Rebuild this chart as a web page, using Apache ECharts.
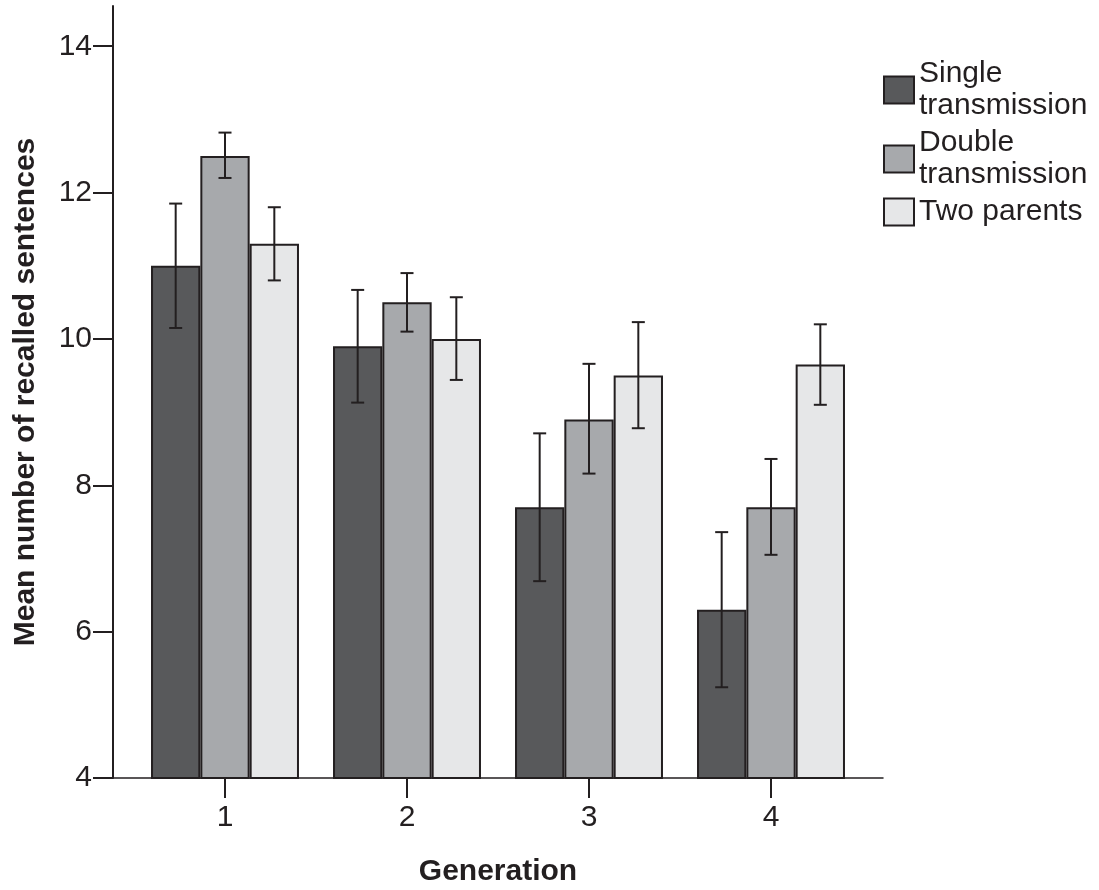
<!DOCTYPE html>
<html>
<head>
<meta charset="utf-8">
<script src="https://cdn.jsdelivr.net/npm/echarts@6/dist/echarts.min.js"></script>
<style>html,body{margin:0;padding:0;background:#fff}#c{width:1099px;height:890px}</style>
</head>
<body>
<div id="c"></div>
<script>
const categories = ['1', '2', '3', '4'];
const seriesNames = ['Single\ntransmission', 'Double\ntransmission', 'Two parents'];
const singleMean = [11.0, 9.9, 7.7, 6.3];
const singleLow = [10.15, 9.13, 6.69, 5.24];
const singleHigh = [11.85, 10.67, 8.71, 7.36];
const doubleMean = [12.5, 10.5, 8.9, 7.7];
const doubleLow = [12.2, 10.1, 8.16, 7.05];
const doubleHigh = [12.82, 10.9, 9.66, 8.36];
const parentsMean = [11.3, 10.0, 9.5, 9.65];
const parentsLow = [10.8, 9.44, 8.78, 9.1];
const parentsHigh = [11.8, 10.57, 10.23, 10.2];
const yTicks = [4, 6, 8, 10, 12, 14];

const colors = ['#58595b', '#a7a9ac', '#e6e7e8'];
const edge = '#231f20';
const font = '"Liberation Sans", Arial, sans-serif';
const catGap = 0.187;
const means = [singleMean, doubleMean, parentsMean];
const lows = [singleLow, doubleLow, parentsLow];
const highs = [singleHigh, doubleHigh, parentsHigh];

const series = [];
means.forEach((m, k) => {
  series.push({
    name: seriesNames[k], type: 'bar', xAxisIndex: 1, yAxisIndex: 1,
    data: m, barGap: '0%', barCategoryGap: (catGap * 100) + '%',
    itemStyle: { color: colors[k], borderColor: edge, borderWidth: 2 },
    emphasis: { disabled: true }, z: 2
  });
});
means.forEach((m, k) => {
  series.push({
    type: 'custom', xAxisIndex: 1, yAxisIndex: 1, z: 5, silent: true,
    data: categories.map((c, i) => [i, lows[k][i], highs[k][i]]),
    renderItem: function (params, api) {
      const band = api.size([1, 0])[0];
      const bw = band * (1 - catGap) / 3;
      const lo = api.coord([api.value(0), api.value(1)]);
      const hi = api.coord([api.value(0), api.value(2)]);
      const x = lo[0] + (k - 1) * bw;
      const cap = 6.5;
      const st = { stroke: edge, lineWidth: 2 };
      return { type: 'group', children: [
        { type: 'line', shape: { x1: x, y1: lo[1], x2: x, y2: hi[1] }, style: st },
        { type: 'line', shape: { x1: x - cap, y1: lo[1], x2: x + cap, y2: lo[1] }, style: st },
        { type: 'line', shape: { x1: x - cap, y1: hi[1], x2: x + cap, y2: hi[1] }, style: st }
      ]};
    }
  });
});

const chart = echarts.init(document.getElementById('c'), null, { renderer: 'canvas' });
chart.setOption({
  animation: false,
  backgroundColor: '#fff',
  textStyle: { fontFamily: font, color: edge },
  grid: [
    { left: 113, top: 6, width: 770, height: 772, containLabel: false, outerBoundsMode: 'none' },
    { left: 134, top: 6, width: 728, height: 772, containLabel: false, outerBoundsMode: 'none' }
  ],
  legend: {
    data: seriesNames.map(n => ({ name: n, icon: 'rect' })),
    orient: 'vertical', left: 883, top: 58, padding: 0,
    itemWidth: 30, itemHeight: 27, itemGap: 5, selectedMode: false,
    textStyle: { fontFamily: font, fontSize: 30, lineHeight: 32, color: edge, padding: [0, 0, 0, 0] }
  },
  xAxis: [
    { gridIndex: 0, type: 'value', min: 0, max: 1,
      axisLine: { show: true, onZero: false, lineStyle: { color: edge, width: 1.5 } },
      axisTick: { show: false }, axisLabel: { show: false }, splitLine: { show: false },
      name: 'Generation', nameLocation: 'middle', nameGap: 79,
      nameTextStyle: { fontFamily: font, fontSize: 30, fontWeight: 'bold', color: edge } },
    { gridIndex: 1, type: 'category', data: categories,
      axisLine: { show: false },
      axisTick: { show: true, inside: false, alignWithLabel: true, length: 20, lineStyle: { color: edge, width: 2 } },
      axisLabel: { fontFamily: font, fontSize: 30, color: edge, margin: 25 },
      splitLine: { show: false } }
  ],
  yAxis: [
    { gridIndex: 0, type: 'value', min: 4, max: 14.55,
      axisLine: { show: true, onZero: false, lineStyle: { color: edge, width: 2 } },
      axisTick: { show: true, inside: false, length: 20, customValues: yTicks, lineStyle: { color: edge, width: 2 } },
      axisLabel: { fontFamily: font, fontSize: 30, color: edge, margin: 21, customValues: yTicks },
      splitLine: { show: false },
      name: 'Mean number of recalled sentences', nameLocation: 'middle', nameGap: 72,
      nameTextStyle: { fontFamily: font, fontSize: 30, fontWeight: 'bold', color: edge } },
    { gridIndex: 1, type: 'value', min: 4, max: 14.55, show: false }
  ],
  series: series
});
</script>
</body>
</html>
